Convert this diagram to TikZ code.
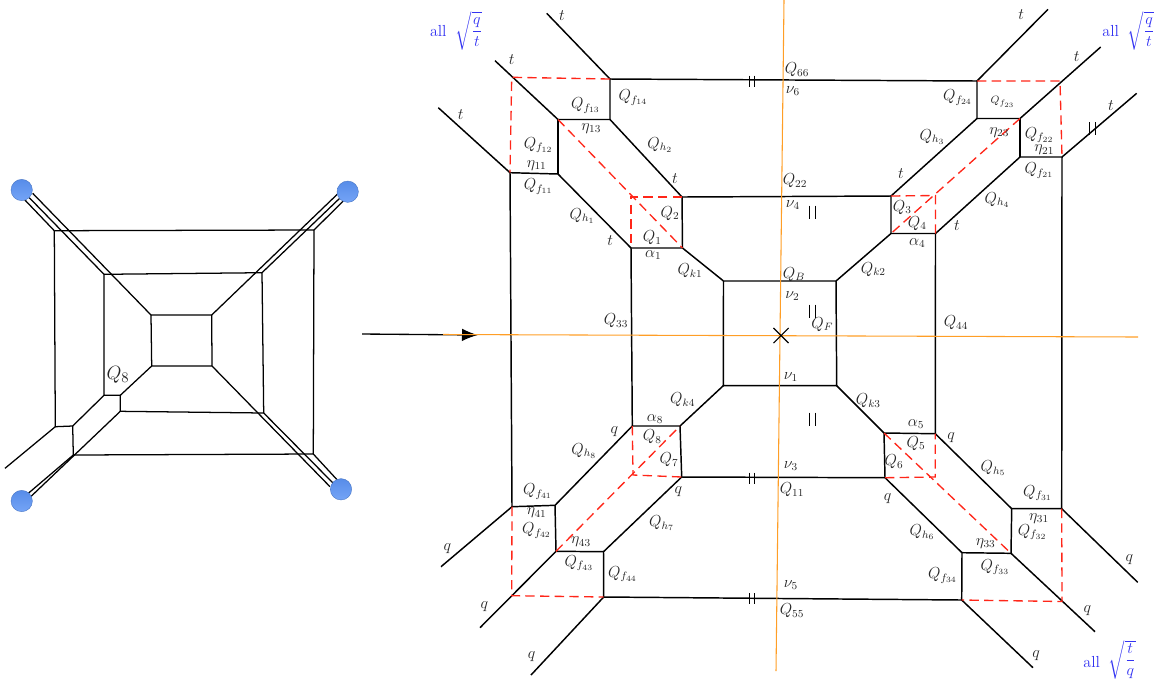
\documentclass[tikz,border=0pt]{standalone}
\usepackage{amsmath}
\usepackage{amssymb}
\usetikzlibrary{arrows.meta, shapes.misc}
\definecolor{dashred}{rgb}{1.0,0.15,0.1}
\definecolor{axisorange}{rgb}{1.0,0.62,0.15}
\definecolor{allblue}{rgb}{0.2,0.2,0.95}
\definecolor{ballblue}{rgb}{0.36,0.58,0.96}
\tikzset{
    edge/.style={line width=1.1pt, black}, % Brane segments
    thinedge/.style={line width=0.95pt, black}, % Left web
    cut/.style={line width=1pt, dashred, dash pattern=on 7pt off 4pt}, % Red dashed cuts
    axis/.style={line width=0.8pt, axisorange},
    lbl/.style={inner sep=0pt, text=black!85, font=\fontsize{12}{14}\selectfont},
    small lbl/.style={inner sep=0pt, text=black!85, font=\footnotesize},
    allq/.style={inner sep=0pt, text=allblue, font=\fontsize{12}{14}\selectfont},
    ball/.style={circle, minimum size=16pt, inner sep=0pt, draw=ballblue!80!black, line width=0.3pt, top color=ballblue!95!black, bottom color=ballblue!85!white},
}

\begin{document}
\begin{tikzpicture}[x=0.75pt, y=-0.75pt, >=Latex]
    \useasboundingbox (0,0) rectangle (1166,687);

    % --- Left web ---
    % Outer frame
    \coordinate (o1) at (54.3,230.7);
    \coordinate (o2) at (314,230);
    \coordinate (o3) at (313.3,454);
    \coordinate (o4) at (73.3,455);
    % Middle frame
    \coordinate (m1) at (104,274.3);
    \coordinate (m2) at (262,272.7);
    \coordinate (m3) at (263.7,413);
    \coordinate (m4) at (120.3,411.3);
    % Inner square
    \coordinate (c1) at (151,315);
    \coordinate (c2) at (211.7,315);
    \coordinate (c3) at (212,366);
    \coordinate (c4) at (151.7,366);
    % Corner near Q8
    \coordinate (w1) at (55.3,426.7);
    \coordinate (w2) at (72.7,426);
    \coordinate (w3) at (104,395.3);
    \coordinate (w4) at (120.3,395.3);
    \coordinate (w5) at (5,468.3);
    % Ends at the balls
    \coordinate (e1a) at (32.7,193.3);
    \coordinate (e1b) at (28.3,196.7);
    \coordinate (e1c) at (23.3,198.3);
    \coordinate (e2a) at (338.3,193.3);
    \coordinate (e2b) at (340.7,197.3);
    \coordinate (e2c) at (343.3,201);
    \coordinate (e3a) at (330,486.7);
    \coordinate (e3b) at (333.3,483.3);
    \coordinate (e3c) at (337.3,480);
    \coordinate (e4a) at (30.7,496.7);
    \coordinate (e4b) at (28.3,493.3);

    \draw[thinedge] (o1) -- (o2) -- (o3) -- (o4) -- (w2) -- (w1) -- (o1);
    \draw[thinedge] (m1) -- (m2) -- (m3) -- (m4) -- (w4) -- (w3) -- (m1);
    \draw[thinedge] (c1) -- (c2) -- (c3) -- (c4) -- (c1);
    \draw[thinedge] (w1) -- (w5);
    \draw[thinedge] (w2) -- (w3);
    \draw[thinedge] (w4) -- (c4);
    \draw[thinedge] (c1) -- (e1a);
    \draw[thinedge] (m1) -- (e1b);
    \draw[thinedge] (o1) -- (e1c);
    \draw[thinedge] (c2) -- (e2a);
    \draw[thinedge] (m2) -- (e2b);
    \draw[thinedge] (o2) -- (e2c);
    \draw[thinedge] (c3) -- (e3a);
    \draw[thinedge] (m3) -- (e3b);
    \draw[thinedge] (o3) -- (e3c);
    \draw[thinedge] (m4) -- (e4a);
    \draw[thinedge] (o4) -- (e4b);

    \node[ball] (b1) at (21.7,190) {};
    \node[ball] (b2) at (347.7,191.7) {};
    \node[ball] (b3) at (341,489.3) {};
    \node[ball] (b4) at (21.7,501) {};
    \node[inner sep=0pt, text=black!85, font=\fontsize{15}{17}\selectfont] (Qeight) at (118,375) {$Q_8$};

    % --- Main web: vertices ---
    % Central square
    \coordinate (s1) at (723.5,281);
    \coordinate (s2) at (836,281);
    \coordinate (s3) at (836.7,385.7);
    \coordinate (s4) at (723.3,385.7);
    % Top-left
    \coordinate (p1) at (631,248);
    \coordinate (p2) at (682.5,248);
    \coordinate (p3) at (682,197);
    \coordinate (p4) at (558,174);
    \coordinate (p5) at (510,172.7);
    \coordinate (p6) at (558,119.5);
    \coordinate (p7) at (610,119.5);
    \coordinate (p8) at (610,79);
    \coordinate (p9) at (511.7,77.3);
    \coordinate (p10) at (631,197);
    \coordinate (tl1) at (438.3,107.7);
    \coordinate (tl2) at (495,60.7);
    \coordinate (tl3) at (546.7,13.3);
    % Top-right
    \coordinate (r1) at (935.5,233.5);
    \coordinate (r2) at (891,233.5);
    \coordinate (r3) at (891,196);
    \coordinate (r4) at (1020,157);
    \coordinate (r5) at (1062,157);
    \coordinate (r6) at (1020,118.5);
    \coordinate (r7) at (977,118.5);
    \coordinate (r8) at (977,81);
    \coordinate (r9) at (1060,81);
    \coordinate (r10) at (935.5,195.5);
    \coordinate (tr1) at (1136.7,93.3);
    \coordinate (tr2) at (1100.7,47);
    \coordinate (tr3) at (1048,9.3);
    % Bottom-right
    \coordinate (u1) at (935.3,433.7);
    \coordinate (u2) at (884,433);
    \coordinate (u3) at (885,477.7);
    \coordinate (u4) at (1011.7,508.7);
    \coordinate (u5) at (1061.7,508.7);
    \coordinate (u6) at (1011,553.3);
    \coordinate (u7) at (962,552.7);
    \coordinate (u8) at (961.7,600);
    \coordinate (u9) at (1062,601.5);
    \coordinate (u10) at (935.3,477);
    \coordinate (br1) at (1137.7,582.3);
    \coordinate (br2) at (1095,631.7);
    \coordinate (br3) at (1033,667.7);
    % Bottom-left
    \coordinate (v1) at (632.3,426);
    \coordinate (v2) at (680,426);
    \coordinate (v3) at (681.7,477);
    \coordinate (v4) at (555,505.3);
    \coordinate (v5) at (512,506.7);
    \coordinate (v6) at (556,551.3);
    \coordinate (v7) at (603.5,551.7);
    \coordinate (v8) at (603.7,597);
    \coordinate (v9) at (511.7,595.7);
    \coordinate (v10) at (633,475);
    \coordinate (bl1) at (441,566.7);
    \coordinate (bl2) at (480,627.7);
    \coordinate (bl3) at (531,675);

    % --- Main web: segments ---
    \draw[edge] (s1) -- (s2) -- (s3) -- (s4) -- (s1);
    \draw[edge] (s1) -- (p2) -- (p1) -- (p4) -- (p5) -- (tl1);
    \draw[edge] (p2) -- (p3) -- (p7) -- (p6) -- (tl2);
    \draw[edge] (p6) -- (p4);
    \draw[edge] (p7) -- (p8) -- (tl3);
    \draw[edge] (s2) -- (r2) -- (r1) -- (r4) -- (r5) -- (tr1);
    \draw[edge] (r2) -- (r3) -- (r7) -- (r6) -- (tr2);
    \draw[edge] (r6) -- (r4);
    \draw[edge] (r7) -- (r8) -- (tr3);
    \draw[edge] (s3) -- (u2) -- (u1) -- (u4) -- (u5) -- (br1);
    \draw[edge] (u2) -- (u3) -- (u7) -- (u6) -- (br2);
    \draw[edge] (u6) -- (u4);
    \draw[edge] (u7) -- (u8) -- (br3);
    \draw[edge] (s4) -- (v2) -- (v1) -- (v4) -- (v5) -- (bl1);
    \draw[edge] (v2) -- (v3) -- (v7) -- (v6) -- (bl2);
    \draw[edge] (v6) -- (v4);
    \draw[edge] (v7) -- (v8) -- (bl3);
    % Long edges between the corners
    \draw[edge] (p8) -- (r8);
    \draw[edge] (p3) -- (r3);
    \draw[edge] (v3) -- (u3);
    \draw[edge] (v8) -- (u8);
    \draw[edge] (p5) -- (v5);
    \draw[edge] (p1) -- (v1);
    \draw[edge] (r1) -- (u1);
    \draw[edge] (r5) -- (u5);

    % --- Red cuts ---
    \draw[cut] (p8) -- (p9) -- (p5);
    \draw[cut] (p6) -- (p2);
    \draw[cut] (p3) -- (p10) -- (p1);
    \draw[cut] (r8) -- (r9) -- (r5);
    \draw[cut] (r6) -- (r2);
    \draw[cut] (r3) -- (r10) -- (r1);
    \draw[cut] (u5) -- (u9) -- (u8);
    \draw[cut] (u2) -- (u6);
    \draw[cut] (u3) -- (u10) -- (u1);
    \draw[cut] (v5) -- (v9) -- (v8);
    \draw[cut] (v6) -- (v2);
    \draw[cut] (v1) -- (v10) -- (v3);

    % --- Axes and arrow ---
    \coordinate (arrS) at (362,334);
    \coordinate (arrE) at (478,335);
    \coordinate (axL) at (443,334.5);
    \coordinate (axR) at (1138,337);
    \coordinate (axT) at (784,0);
    \coordinate (axB) at (776,671);
    \draw[-{Latex[length=12pt,width=9.5pt]}, line width=1pt] (arrS) -- (arrE);
    \draw[axis] (axL) -- (axR);
    \draw[axis] (axT) -- (axB);
    \node[cross out, draw, line width=0.8pt, minimum size=10.5pt, inner sep=0pt] (cross) at (781,335.5) {};

    % --- Double ticks ---
    \foreach \tx/\ty in {752/81, 752/478, 752/598.5}
        \draw[line width=1pt] (\tx-2.2,\ty-5.5) -- (\tx-2.2,\ty+5.5) (\tx+2.2,\ty-5.5) -- (\tx+2.2,\ty+5.5);
    \foreach \tx/\ty in {812.8/212, 812.8/311, 812.8/419, 1092.5/128.7}
        \draw[line width=1pt] (\tx-3,\ty-6.5) -- (\tx-3,\ty+6.5) (\tx+3,\ty-6.5) -- (\tx+3,\ty+6.5);

    % --- Labels, top left ---
    \node[lbl] (t1) at (562,16) {$t$};
    \node[lbl] (t2) at (511.7,60) {$t$};
    \node[lbl] (t3) at (460.7,114.3) {$t$};
    \node[lbl] (t4) at (675,178.3) {$t$};
    \node[lbl] (t5) at (610.3,240.7) {$t$};
    \node[lbl] (Qf14) at (633,97.7) {$Q_{f_{14}}$};
    \node[lbl] (Qf13) at (585.7,105.7) {$Q_{f_{13}}$};
    \node[lbl] (eta13) at (591.3,128.3) {$\eta_{13}$};
    \node[lbl] (Qf12) at (538.3,145) {$Q_{f_{12}}$};
    \node[lbl] (eta11) at (536.7,165.3) {$\eta_{11}$};
    \node[lbl] (Qf11) at (538.3,186.7) {$Q_{f_{11}}$};
    \node[lbl] (Qh1) at (582.3,216) {$Q_{h_1}$};
    \node[lbl] (Qh2) at (660,145) {$Q_{h_2}$};
    \node[lbl] (Q2) at (670,213.3) {$Q_2$};
    \node[lbl] (Q1) at (652.3,237.7) {$Q_1$};
    \node[lbl] (alpha1) at (653.3,255) {$\alpha_1$};
    \node[lbl] (Qk1) at (690,270.7) {$Q_{k1}$};
    \node[allq] (allA) at (438.3,31) {all};
    \node[allq] (rootA) at (469,31) {$\sqrt{\dfrac{q}{t}}$};

    % --- Labels, top right ---
    \node[lbl] (t6) at (1021.3,15) {$t$};
    \node[lbl] (t7) at (1076.7,56.7) {$t$};
    \node[lbl] (t8) at (1111,105.7) {$t$};
    \node[lbl] (t9) at (901,173.3) {$t$};
    \node[lbl] (t10) at (957,225.7) {$t$};
    \node[lbl] (Qf24) at (957.7,97.7) {$Q_{f_{24}}$};
    \node[small lbl] (Qf23) at (1002.7,101.7) {$Q_{f_{23}}$};
    \node[lbl] (eta23) at (999.3,132.3) {$\eta_{23}$};
    \node[lbl] (Qf22) at (1039.3,135) {$Q_{f_{22}}$};
    \node[lbl] (eta21) at (1044.3,150) {$\eta_{21}$};
    \node[lbl] (Qf21) at (1039,170.7) {$Q_{f_{21}}$};
    \node[lbl] (Qh4) at (997.3,200) {$Q_{h_4}$};
    \node[lbl] (Qh3) at (932.3,136.7) {$Q_{h_3}$};
    \node[lbl] (Q3) at (902.3,207.3) {$Q_3$};
    \node[lbl] (Q4) at (917.3,223.3) {$Q_4$};
    \node[lbl] (alpha4) at (917.3,243.3) {$\alpha_4$};
    \node[lbl] (Qk2) at (873.3,269.3) {$Q_{k2}$};
    \node[allq] (allB) at (1110.7,31) {all};
    \node[allq] (rootB) at (1141,31) {$\sqrt{\dfrac{q}{t}}$};

    % --- Labels, bottom left ---
    \node[lbl] (Qk4) at (682.7,400) {$Q_{k4}$};
    \node[lbl] (alpha8) at (655,419) {$\alpha_8$};
    \node[lbl] (Q8) at (652.3,436.7) {$Q_8$};
    \node[lbl] (Q7) at (669,460) {$Q_7$};
    \node[lbl] (q1) at (614.3,431.7) {$q$};
    \node[lbl] (Qh8) at (584,451) {$Q_{h_8}$};
    \node[lbl] (q2) at (678.3,491.7) {$q$};
    \node[lbl] (Qh7) at (661.7,523.3) {$Q_{h_7}$};
    \node[lbl] (Qf41) at (537.7,491.7) {$Q_{f_{41}}$};
    \node[lbl] (eta41) at (536.7,512.7) {$\eta_{41}$};
    \node[lbl] (Qf42) at (536.7,530.7) {$Q_{f_{42}}$};
    \node[lbl] (eta43) at (581,541.7) {$\eta_{43}$};
    \node[lbl] (Qf43) at (579,563.3) {$Q_{f_{43}}$};
    \node[lbl] (Qf44) at (622.7,574.3) {$Q_{f_{44}}$};
    \node[lbl] (q3) at (447.3,548.3) {$q$};
    \node[lbl] (q4) at (484.3,606.7) {$q$};
    \node[lbl] (q5) at (531.7,656.7) {$q$};

    % --- Labels, bottom right ---
    \node[lbl] (Qk3) at (868.3,400.7) {$Q_{k3}$};
    \node[lbl] (alpha5) at (916,424.3) {$\alpha_5$};
    \node[lbl] (Q5) at (916,443.3) {$Q_5$};
    \node[lbl] (Q6) at (894,461.7) {$Q_6$};
    \node[lbl] (q6) at (951,437.3) {$q$};
    \node[lbl] (Qh5) at (993.3,468.3) {$Q_{h_5}$};
    \node[lbl] (q7) at (887.7,498.3) {$q$};
    \node[lbl] (Qh6) at (922.3,532.3) {$Q_{h_6}$};
    \node[lbl] (Qf31) at (1037.7,493.3) {$Q_{f_{31}}$};
    \node[lbl] (eta31) at (1039,518.3) {$\eta_{31}$};
    \node[lbl] (Qf32) at (1032.3,532.3) {$Q_{f_{32}}$};
    \node[lbl] (eta33) at (985.7,543.3) {$\eta_{33}$};
    \node[lbl] (Qf33) at (995,567.3) {$Q_{f_{33}}$};
    \node[lbl] (Qf34) at (942.7,575.7) {$Q_{f_{34}}$};
    \node[lbl] (q8) at (1129.3,560) {$q$};
    \node[lbl] (q9) at (1087.3,611) {$q$};
    \node[lbl] (q10) at (1036,656) {$q$};
    \node[allq] (allC) at (1091.7,662.3) {all};
    \node[allq] (rootC) at (1122.3,660) {$\sqrt{\dfrac{t}{q}}$};

    % --- Labels, middle ---
    \node[lbl] (Q66) at (797,70) {$Q_{66}$};
    \node[lbl] (nu6) at (793,91) {$\nu_6$};
    \node[lbl] (Q22) at (795,181) {$Q_{22}$};
    \node[lbl] (nu4) at (793,205) {$\nu_4$};
    \node[lbl] (QB) at (794,274.3) {$Q_B$};
    \node[lbl] (nu2) at (792.3,296) {$\nu_2$};
    \node[lbl] (QF) at (822.3,324.3) {$Q_F$};
    \node[lbl] (Q33) at (616,321) {$Q_{33}$};
    \node[lbl] (Q44) at (956,323) {$Q_{44}$};
    \node[lbl] (nu1) at (791,377.3) {$\nu_1$};
    \node[lbl] (nu3) at (791,466) {$\nu_3$};
    \node[lbl] (Q11) at (792,490) {$Q_{11}$};
    \node[lbl] (nu5) at (791,585) {$\nu_5$};
    \node[lbl] (Q55) at (792,611) {$Q_{55}$};

\end{tikzpicture}
\end{document}
